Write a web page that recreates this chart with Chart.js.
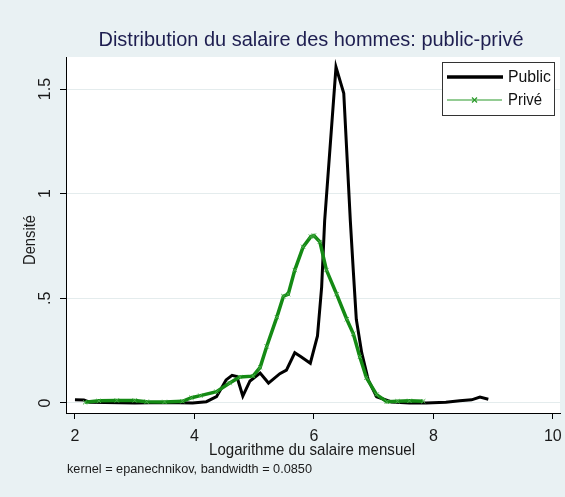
<!DOCTYPE html>
<html><head><meta charset="utf-8">
<script src="https://cdn.jsdelivr.net/npm/chart.js@4.4.0/dist/chart.umd.min.js"></script>
<style>html,body{margin:0;padding:0;background:#e9f1f3;overflow:hidden}#wrap{width:565px;height:497px;position:relative}</style>
</head><body><div id="wrap"><canvas id="c" width="565" height="497"></canvas></div>
<script>
// ---- data ----
const publicX = [2.0,2.15,2.25,2.5,3.0,3.5,3.97,4.2,4.37,4.53,4.63,4.71,4.81,4.93,5.10,5.24,5.43,5.54,5.68,5.79,5.94,6.06,6.13,6.18,6.37,6.50,6.61,6.66,6.71,6.80,6.91,7.05,7.3,7.6,7.88,8.21,8.44,8.64,8.78,8.92];
const publicY = [0.015,0.014,0.003,0.002,0.0,0.002,0.0,0.006,0.03,0.11,0.132,0.126,0.033,0.105,0.143,0.095,0.14,0.157,0.24,0.22,0.19,0.32,0.555,0.87,1.605,1.48,0.87,0.63,0.40,0.24,0.11,0.03,0.005,0.0,0.0,0.003,0.011,0.015,0.028,0.018];
const priveX = [2.17,2.4,2.7,3.0,3.2,3.5,3.8,3.95,4.1,4.37,4.59,4.76,4.98,5.10,5.21,5.38,5.49,5.57,5.68,5.82,5.95,6.0,6.10,6.21,6.38,6.55,6.66,6.77,6.88,7.05,7.22,7.4,7.6,7.83];
const priveY = [0.003,0.01,0.012,0.012,0.006,0.005,0.008,0.025,0.035,0.054,0.095,0.124,0.128,0.17,0.27,0.41,0.51,0.52,0.635,0.746,0.795,0.80,0.77,0.635,0.52,0.40,0.33,0.22,0.12,0.04,0.006,0.008,0.01,0.008];
const xTicks = [2,4,6,8,10];
const xTickLabels = ['2','4','6','8','10'];
const yTicks = [0,0.5,1,1.5];
const yTickLabels = ['0','.5','1','1.5'];
const seriesNames = ['Public','Privé'];
const titleText = 'Distribution du salaire des hommes: public-privé';
const xTitleText = 'Logarithme du salaire mensuel';
const yTitleText = 'Densité';
const noteText = 'kernel = epanechnikov, bandwidth = 0.0850';

const BG = '#e9f1f3';
const GREEN = '#148a14';
const SANS = '"Liberation Sans",Arial,sans-serif';

function pts(xs, ys){ return xs.map((x,i)=>({x:x,y:ys[i]})); }

function fitText(ctx, txt, x, y, w, font, align){
  ctx.font = font;
  const m = ctx.measureText(txt).width;
  const s = w / m;
  ctx.save();
  ctx.translate(x, y);
  ctx.scale(s, 1);
  ctx.textAlign = align || 'center';
  ctx.fillText(txt, 0, 0);
  ctx.restore();
}

const deco = {
  id:'deco',
  beforeDraw(chart){
    const ctx = chart.ctx, a = chart.chartArea;
    ctx.save();
    ctx.fillStyle = BG; ctx.fillRect(0,0,chart.width,chart.height);
    ctx.fillStyle = '#fff'; ctx.fillRect(a.left, a.top, a.right-a.left, a.bottom-a.top);
    ctx.restore();
  },
  afterDraw(chart){
    const ctx = chart.ctx;
    const ys = chart.scales.y, xs = chart.scales.x;
    ctx.save();
    ctx.textBaseline = 'middle';
    // title
    ctx.fillStyle = '#1e1e50';
    fitText(ctx, titleText, 311, 40, 425, '20px '+SANS, 'center');
    // x tick labels
    ctx.fillStyle = '#1a1a1a';
    ctx.font = '16px '+SANS; ctx.textAlign='center';
    xTicks.forEach((v,i)=>{ ctx.fillText(xTickLabels[i], xs.getPixelForValue(v), 437); });
    // y tick labels (rotated)
    yTicks.forEach((v,i)=>{
      ctx.save(); ctx.translate(46, ys.getPixelForValue(v)); ctx.rotate(-Math.PI/2);
      ctx.font = '16px '+SANS; ctx.textAlign='center'; ctx.fillText(yTickLabels[i], 0, 0); ctx.restore();
    });
    // axis titles
    fitText(ctx, xTitleText, 312, 450, 206, '17px '+SANS, 'center');
    ctx.save(); ctx.translate(31, 240); ctx.rotate(-Math.PI/2);
    fitText(ctx, yTitleText, 0, 0, 50, '16px '+SANS, 'center'); ctx.restore();
    // note
    fitText(ctx, noteText, 67, 470, 245, '12px '+SANS, 'left');
    // legend
    ctx.fillStyle='#fff'; ctx.fillRect(442.5,62.5,112,53);
    ctx.strokeStyle='#333'; ctx.lineWidth=1; ctx.strokeRect(442.5,62.5,112,53);
    ctx.strokeStyle='#000'; ctx.lineWidth=3.5; ctx.beginPath(); ctx.moveTo(447,77); ctx.lineTo(503,77); ctx.stroke();
    ctx.strokeStyle='#2a9a2a'; ctx.lineWidth=1.2; ctx.beginPath(); ctx.moveTo(447,100); ctx.lineTo(502,100); ctx.stroke();
    ctx.beginPath(); ctx.moveTo(472,97.5); ctx.lineTo(477,102.5); ctx.moveTo(477,97.5); ctx.lineTo(472,102.5); ctx.stroke();
    ctx.fillStyle='#111';
    fitText(ctx, seriesNames[0], 508, 77, 43, '17px '+SANS, 'left');
    fitText(ctx, seriesNames[1], 508, 100, 34, '17px '+SANS, 'left');
    ctx.restore();
  }
};

new Chart(document.getElementById('c'), {
  type:'scatter',
  data:{datasets:[
    {label:seriesNames[0], data:pts(publicX,publicY), showLine:true, borderColor:'#000', borderWidth:3, pointRadius:0, tension:0, order:1},
    {label:seriesNames[1], data:pts(priveX,priveY), showLine:true, borderColor:GREEN, borderWidth:3.5, pointStyle:'crossRot', pointRadius:3, pointBorderColor:'#45aa45', pointBorderWidth:1, pointBackgroundColor:'#45aa45', tension:0, order:0}
  ]},
  options:{
    responsive:false, animation:false, devicePixelRatio:1,
    layout:{padding:{left:0,top:57,right:4,bottom:0}},
    plugins:{legend:{display:false}, tooltip:{enabled:false}, title:{display:false}},
    scales:{
      x:{type:'linear', min:1.85, max:10.12,
        afterBuildTicks:s=>{ s.ticks = xTicks.map(v=>({value:v})); },
        afterFit:s=>{ s.height = 84; },
        ticks:{display:false},
        grid:{drawOnChartArea:false, drawTicks:true, tickLength:6, tickColor:'#000', tickWidth:1},
        border:{color:'#000', width:1}
      },
      y:{type:'linear', min:-0.048, max:1.653,
        afterBuildTicks:s=>{ s.ticks = yTicks.map(v=>({value:v})); },
        afterFit:s=>{ s.width = 66; },
        ticks:{display:false},
        grid:{color:'#e4eced', lineWidth:1, drawTicks:true, tickLength:6, tickColor:'#000', tickWidth:1},
        border:{color:'#000', width:1}
      }
    }
  },
  plugins:[deco]
});
</script></body></html>
